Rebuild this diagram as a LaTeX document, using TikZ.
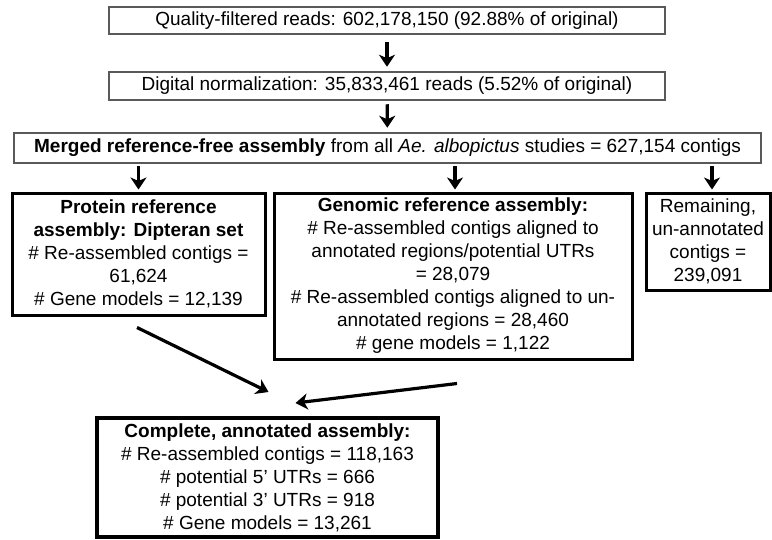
\documentclass[tikz,border=0pt]{standalone}
\usepackage{fontspec}
\setmainfont{Liberation Sans}
\usetikzlibrary{arrows.meta}
\begin{document}
\begin{tikzpicture}[x=1pt,y=-1pt,
  graybox/.style={draw=black!65,line width=2.5pt,rectangle,inner sep=0pt,align=center,
    font=\fontsize{19}{23}\selectfont},
  blkbox/.style={draw=black,line width=3pt,rectangle,inner sep=0pt,align=center,
    font=\fontsize{19}{23}\selectfont},
  arr/.style={line width=3.2pt,-{Stealth[length=12pt,width=16pt,inset=3.5pt]}}]
\useasboundingbox (0,0) rectangle (772,539);
\node[graybox,minimum width=556pt,minimum height=27pt] (b1) at (387,20.5)
  {Quality-filtered reads: 602,178,150 (92.88\% of original)};
\node[graybox,minimum width=556pt,minimum height=28pt] (b2) at (387,86)
  {Digital normalization: 35,833,461 reads (5.52\% of original)};
\node[graybox,minimum width=747pt,minimum height=30pt] (b3) at (387.5,148)
  {\textbf{Merged reference-free assembly} from all \textit{Ae. albopictus} studies = 627,154 contigs};
\node[blkbox,minimum width=253pt,minimum height=122pt] (b4) at (138.5,254)
  {\textbf{Protein reference}\\\textbf{assembly: Dipteran set}\\\# Re-assembled contigs =\\61,624\\\# Gene models = 12,139};
\node[blkbox,minimum width=358pt,minimum height=166pt] (b5) at (453,276)
  {\textbf{Genomic reference assembly:}\\\# Re-assembled contigs aligned to\\annotated regions/potential UTRs\\= 28,079\\\# Re-assembled contigs aligned to un-\\annotated regions = 28,460\\\# gene models = 1,122};
\node[blkbox,minimum width=124pt,minimum height=97pt] (b6) at (708,241.5)
  {Remaining,\\un-annotated\\contigs =\\239,091};
\node[blkbox,line width=4pt,minimum width=341pt,minimum height=119pt] (b7) at (267.5,477.5)
  {\textbf{Complete, annotated assembly:}\\\# Re-assembled contigs = 118,163\\\# potential 5’ UTRs = 666\\\# potential 3’ UTRs = 918\\\# Gene models = 13,261};
\draw[arr,shorten <=7pt,shorten >=4pt] (b1) -- (b2);
\draw[arr,shorten <=3pt,shorten >=4pt] (b2) -- (b3);
\draw[arr,shorten <=2pt,shorten >=2pt] (b3.south -| b4) -- (b4);
\draw[arr,shorten <=2pt,shorten >=2pt] (b3.south -| 455,0) coordinate (g3) -- (g3 |- b5.north) coordinate (g5);
\draw[arr,shorten <=2pt,shorten >=2pt] (b3.south -| 712,0) coordinate (r3) -- (r3 |- b6.north) coordinate (r6);
\coordinate (a1) at ([shift={(-1.5,11)}]b4.south);
\coordinate (a2) at ([shift={(1,-24)}]b7.north);
\coordinate (c1) at ([shift={(4,23)}]b5.south);
\coordinate (c2) at ([shift={(28,-13)}]b7.north);
\draw[arr] (a1) -- (a2);
\draw[arr] (c1) -- (c2);
\end{tikzpicture}
\end{document}
